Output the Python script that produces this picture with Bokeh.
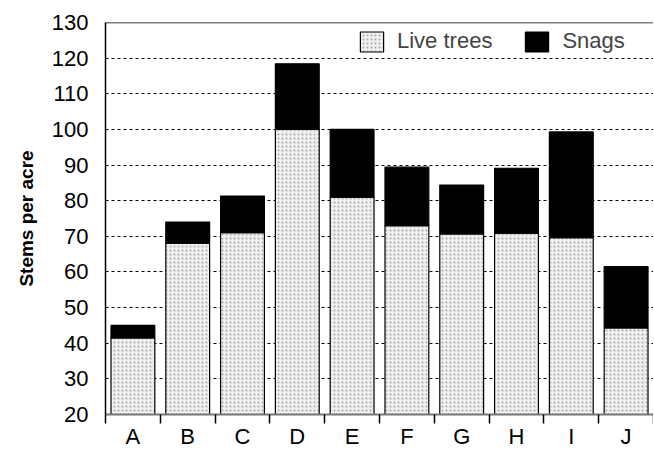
from bokeh.plotting import figure
from bokeh.models import ColumnDataSource, FixedTicker, Legend, LegendItem, Span
from bokeh.embed import file_html
from bokeh.resources import INLINE

categories = ["A", "B", "C", "D", "E", "F", "G", "H", "I", "J"]
live_trees = [41.5, 68, 71, 100, 81, 73, 70.7, 70.9, 69.6, 44.3]
snags = [3.5, 6, 10.3, 18.4, 19, 16.4, 13.7, 18.2, 29.7, 17.2]
y_ticks = [20, 30, 40, 50, 60, 70, 80, 90, 100, 110, 120, 130]

x = [i + 0.5 for i in range(len(categories))]
source = ColumnDataSource(dict(x=x, live=live_trees, snags=snags))

FONT = "Liberation Sans"
FRAME_H = 392

p = figure(frame_width=548, frame_height=FRAME_H, x_range=(0, len(categories)),
           y_range=(y_ticks[0], y_ticks[-1]),
           output_backend="svg", toolbar_location=None,
           min_border_left=105, min_border_top=22, min_border_right=0, min_border_bottom=0)

r_live, r_snag = p.vbar_stack(["live", "snags"], x="x", width=0.8, source=source,
                              fill_color=["#efefef", "black"], line_color="black", line_width=1.2)
r_live.glyph.hatch_pattern = "dot"
r_live.glyph.hatch_color = "#a8a8a8"
r_live.glyph.hatch_scale = 4
r_live.glyph.hatch_weight = 1

legend = Legend(items=[LegendItem(label="Live trees", renderers=[r_live]),
                       LegendItem(label="Snags", renderers=[r_snag])],
                orientation="horizontal", location=(252, FRAME_H - 32),
                padding=0, margin=0, spacing=30, label_standoff=11,
                glyph_width=29, glyph_height=25,
                label_text_font=FONT, label_text_font_size="22px",
                border_line_color=None, background_fill_alpha=0)
p.add_layout(legend, "center")

# y axis
p.yaxis.ticker = FixedTicker(ticks=y_ticks)
p.yaxis.major_tick_out = 0
p.yaxis.major_tick_in = 0
p.yaxis.minor_tick_out = 0
p.yaxis.minor_tick_in = 0
p.yaxis.major_label_standoff = 17
p.yaxis.major_label_text_font = FONT
p.yaxis.major_label_text_font_size = "22px"
p.yaxis.major_label_text_color = "black"
p.yaxis.axis_label = "Stems per acre"
p.yaxis.axis_label_text_font = FONT
p.yaxis.axis_label_text_font_size = "19px"
p.yaxis.axis_label_text_font_style = "bold"
p.yaxis.axis_label_text_color = "black"
p.yaxis.axis_label_standoff = 12
p.yaxis.axis_line_color = "black"
p.yaxis.axis_line_width = 1.5

# x axis: labels at category centres, ticks at boundaries
p.xaxis.ticker = FixedTicker(ticks=x, minor_ticks=list(range(len(categories) + 1)))
p.xaxis.major_label_overrides = {xi: c for xi, c in zip(x, categories)}
p.xaxis.major_tick_out = 0
p.xaxis.major_tick_in = 0
p.xaxis.minor_tick_out = 9
p.xaxis.minor_tick_in = 0
p.xaxis.minor_tick_line_color = "black"
p.xaxis.minor_tick_line_width = 1.5
p.xaxis.major_label_standoff = 0
p.xaxis.major_label_text_font = FONT
p.xaxis.major_label_text_font_size = "22px"
p.xaxis.major_label_text_color = "black"
p.xaxis.axis_line_color = "#777777"
p.xaxis.axis_line_width = 2

p.xgrid.grid_line_color = None
p.ygrid.ticker = FixedTicker(ticks=y_ticks[1:-1])
p.ygrid.grid_line_color = "black"
p.ygrid.grid_line_dash = "3 3"
p.ygrid.grid_line_width = 1

# top border only (the right side is cut off in the reference)
p.outline_line_color = None
p.add_layout(Span(location=y_ticks[-1], dimension="width", line_color="black", line_width=1.5))
p.background_fill_color = "white"

open("out.html", "w").write(file_html(p, INLINE))
